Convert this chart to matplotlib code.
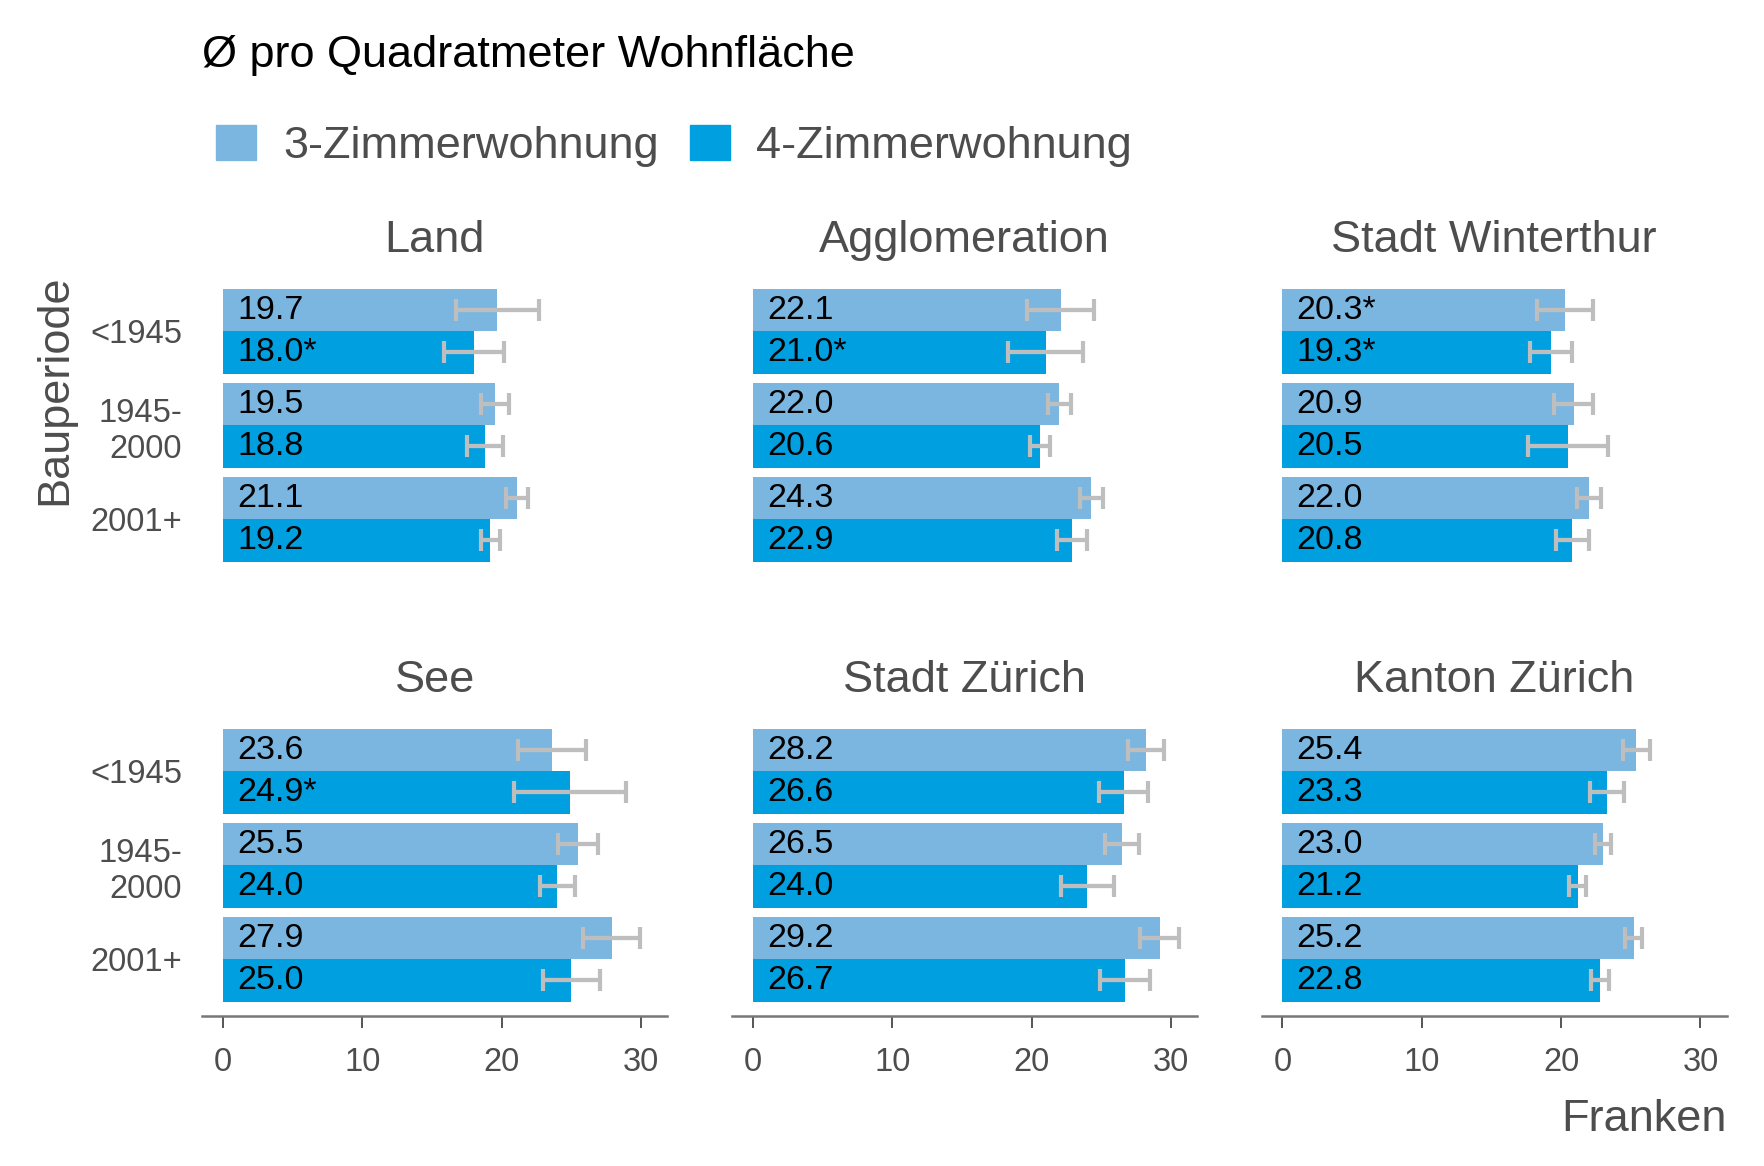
import matplotlib
matplotlib.use("Agg")
import matplotlib.pyplot as plt
from matplotlib.patches import Rectangle
import numpy as np

plt.rcParams['font.family'] = ['Liberation Sans', 'DejaVu Sans']

# ---------------- data ----------------
title = "Ø pro Quadratmeter Wohnfläche"
series_names = ["3-Zimmerwohnung", "4-Zimmerwohnung"]
regions = ["Land", "Agglomeration", "Stadt Winterthur",
           "See", "Stadt Zürich", "Kanton Zürich"]
periods = ["<1945", "1945-\n2000", "2001+"]

val_3z = [[19.7, 19.5, 21.1], [22.1, 22.0, 24.3], [20.3, 20.9, 22.0],
          [23.6, 25.5, 27.9], [28.2, 26.5, 29.2], [25.4, 23.0, 25.2]]
val_4z = [[18.0, 18.8, 19.2], [21.0, 20.6, 22.9], [19.3, 20.5, 20.8],
          [24.9, 24.0, 25.0], [26.6, 24.0, 26.7], [23.3, 21.2, 22.8]]
err_3z = [[3.0, 1.0, 0.8], [2.4, 0.85, 0.85], [2.0, 1.4, 0.85],
          [2.45, 1.45, 2.05], [1.3, 1.2, 1.4], [0.97, 0.6, 0.6]]
err_4z = [[2.15, 1.3, 0.7], [2.7, 0.73, 1.07], [1.5, 2.9, 1.2],
          [4.0, 1.25, 2.05], [1.75, 1.9, 1.8], [1.2, 0.6, 0.65]]
star_3z = [[False, False, False], [False, False, False], [True, False, False],
           [False, False, False], [False, False, False], [False, False, False]]
star_4z = [[True, False, False], [True, False, False], [True, False, False],
           [True, False, False], [False, False, False], [False, False, False]]
x_ticks = [0, 10, 20, 30]
x_label = "Franken"
y_label = "Bauperiode"

# ---------------- style ----------------
col_3z = "#7bb6e1"
col_4z = "#009fe0"
col_err = "#bebebe"
col_txt = "#4d4d4d"
W, H = 1765, 1166
fig = plt.figure(figsize=(W / 100, H / 100), dpi=100)

xlim = (-1.5, 31.9)
scale = 13.93
zeros = [223.0, 753.0, 1282.5]
lefts = [z + xlim[0] * scale for z in zeros]
pw = (xlim[1] - xlim[0]) * scale
tops = [274.9, 714.9]
ph = 300.8
big = 32.5
small = 23.5
lab = 24.5

pos = np.arange(1, len(periods) + 1)
bh = 0.45

for i, reg in enumerate(regions):
    r, c = divmod(i, 3)
    ax = fig.add_axes([lefts[c] / W, 1 - (tops[r] + ph) / H, pw / W, ph / H])
    v3 = np.array(val_3z[i]); v4 = np.array(val_4z[i])
    ax.barh(pos - bh / 2, v3, height=bh, color=col_3z, zorder=2)
    ax.barh(pos + bh / 2, v4, height=bh, color=col_4z, zorder=2)
    for yy, vv, ee in ((pos - bh / 2, v3, err_3z[i]), (pos + bh / 2, v4, err_4z[i])):
        ax.errorbar(vv, yy, xerr=ee, fmt='none', ecolor=col_err,
                    elinewidth=3.1, capsize=8.2, capthick=3.0, zorder=3)
    for k in range(len(periods)):
        t3 = f"{val_3z[i][k]:.1f}" + ("*" if star_3z[i][k] else "")
        t4 = f"{val_4z[i][k]:.1f}" + ("*" if star_4z[i][k] else "")
        ax.text(1, pos[k] - bh / 2, t3, ha='left', va='center', fontsize=lab,
                color='black', zorder=4)
        ax.text(1, pos[k] + bh / 2, t4, ha='left', va='center', fontsize=lab,
                color='black', zorder=4)
    ax.set_xlim(*xlim)
    ax.set_ylim(3.6, 0.4)
    for s in ['top', 'right', 'left']:
        ax.spines[s].set_visible(False)
    ax.set_title(reg, fontsize=big, color=col_txt, pad=16.5)
    if c == 0:
        ax.set_yticks(pos)
        ax.set_yticklabels(periods, fontsize=small, color=col_txt,
                           linespacing=1.2)
        ax.tick_params(axis='y', length=0, pad=14.5)
    else:
        ax.set_yticks([])
    if r == 1:
        ax.spines['bottom'].set_color('#777777')
        ax.spines['bottom'].set_linewidth(1.8)
        ax.set_xticks(x_ticks)
        ax.set_xticklabels([str(t) for t in x_ticks], fontsize=small, color=col_txt)
        ax.tick_params(axis='x', length=8.6, width=1.4, color='#555555', pad=14)
    else:
        ax.spines['bottom'].set_visible(False)
        ax.set_xticks([])
    ax.set_facecolor('none')

# title
fig.text(lefts[0] / W, 1 - 66.7 / H, title, fontsize=big, color='black',
         ha='left', va='baseline')
# legend
leg_patch_x = [216, 690]
leg_text_x = [283, 756]
for nm, col, px, tx in zip(series_names, [col_3z, col_4z], leg_patch_x, leg_text_x):
    fig.patches.append(Rectangle((px / W, 1 - 160 / H), 40 / W, 35 / H,
                                 transform=fig.transFigure, color=col))
    fig.text(tx / W, 1 - 158 / H, nm, fontsize=big, color=col_txt,
             ha='left', va='baseline')
# axis labels
fig.text((lefts[2] + pw) / W, 1 - 1130.7 / H, x_label, fontsize=big,
         color=col_txt, ha='right', va='baseline')
fig.text(55 / W, 1 - 390 / H, y_label, fontsize=big, color=col_txt,
         ha='center', va='center', rotation=90)

fig.savefig("out.png", dpi=100)
